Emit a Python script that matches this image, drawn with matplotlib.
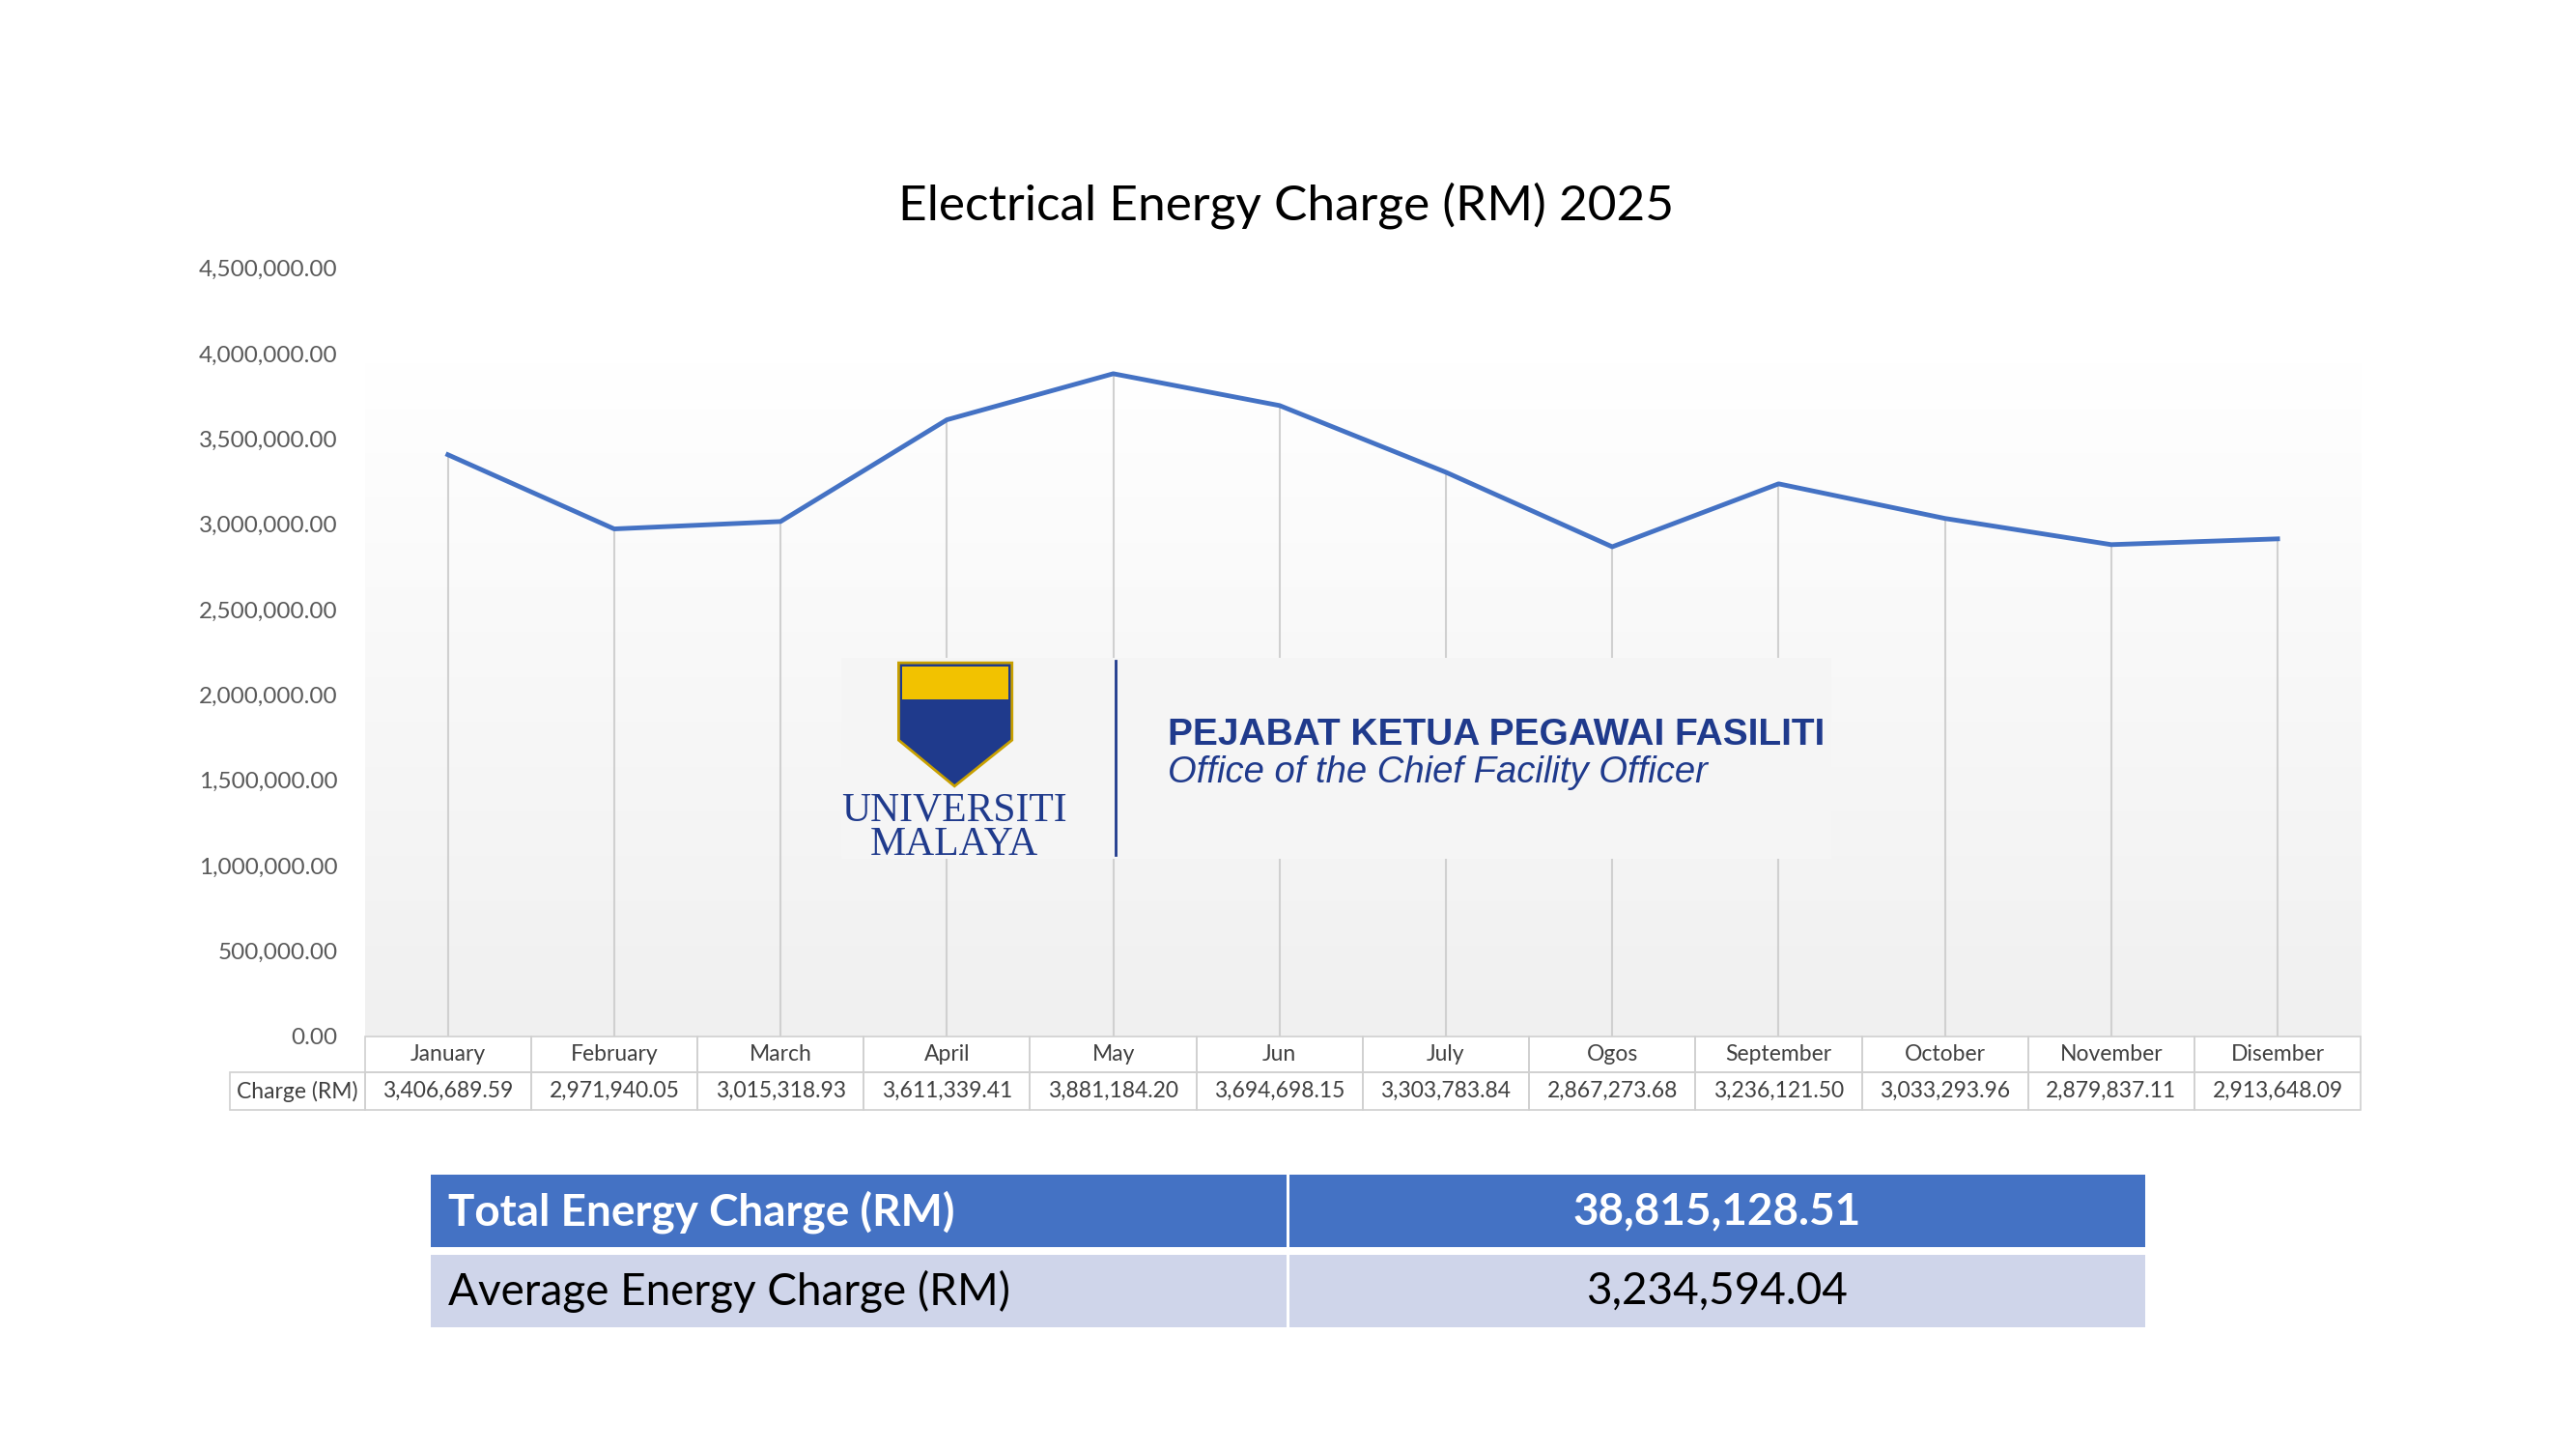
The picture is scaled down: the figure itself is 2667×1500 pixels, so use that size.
import matplotlib
matplotlib.use("Agg")
import matplotlib.pyplot as plt
import numpy as np
from matplotlib.patches import Rectangle, Polygon
from matplotlib.colors import LinearSegmentedColormap

plt.rcParams['font.family'] = ['Lato', 'DejaVu Sans']

months = ["January","February","March","April","May","Jun","July","Ogos","September","October","November","Disember"]
charges = [3406689.59,2971940.05,3015318.93,3611339.41,3881184.20,3694698.15,3303783.84,2867273.68,3236121.50,3033293.96,2879837.11,2913648.09]
yticks = np.arange(0, 4500001, 500000)
total_label = "38,815,128.51"
avg_label = "3,234,594.04"

W, H = 1568.0, 881.0
fig = plt.figure(figsize=(26.67, 15.0), dpi=100)

def fx(x): return x / W
def fy(y): return 1 - y / H

L, R, T, B = 222, 1437, 163, 630
ax = fig.add_axes([fx(L), fy(B), fx(R) - fx(L), fy(T) - fy(B)])
n = len(months)
ax.set_xlim(-0.5, n - 0.5)
ax.set_ylim(0, 4500000)
grad = np.linspace(0, 1, 256).reshape(-1, 1)
cm = LinearSegmentedColormap.from_list("g", ["#f0f0f0", "#ffffff"])
ax.imshow(grad, extent=(-0.5, n - 0.5, 0, 3950000), origin="lower", aspect="auto", cmap=cm, zorder=0)
x = np.arange(n)
ax.vlines(x, 0, charges, color="#d0d0d0", lw=1.5, zorder=1)
ax.plot(x, charges, color="#4472C4", lw=3.5, zorder=3)
ax.set_yticks(yticks)
ax.set_yticklabels([f"{v:,.2f}" for v in yticks], fontsize=17.5, color="#595959")
ax.set_xticks([])
ax.tick_params(axis='y', length=0, pad=20)
for s in ax.spines.values():
    s.set_visible(False)

fig.text(fx(783), fy(125), "Electrical Energy Charge (RM) 2025", ha="center", va="center", fontsize=37, color="#000")

cw = (R - L) / n
bc = "#d0d0d0"
def rect(x0, y0, x1, y1, fc="none", ec=bc, lw=1.2, z=2):
    fig.patches.append(Rectangle((fx(x0), fy(y1)), fx(x1) - fx(x0), fy(y0) - fy(y1),
                                 transform=fig.transFigure, fc=fc, ec=ec, lw=lw, zorder=z))
rect(140, 652, 222, 675)
for i in range(n):
    x0 = L + i * cw
    rect(x0, 630, x0 + cw, 652)
    rect(x0, 652, x0 + cw, 675)
    fig.text(fx(x0 + cw / 2), fy(641), months[i], ha="center", va="center", fontsize=16.5, color="#404040")
    fig.text(fx(x0 + cw / 2), fy(663.5), f"{charges[i]:,.2f}", ha="center", va="center", fontsize=16.5, color="#404040")
fig.text(fx(181), fy(663.5), "Charge (RM)", ha="center", va="center", fontsize=16.5, color="#404040")

rect(512, 400, 1115, 522, fc="#f5f5f5", ec="none", z=5)
fig.patches.append(Polygon([(fx(547), fy(403)), (fx(616), fy(403)), (fx(616), fy(450)),
                            (fx(581), fy(478)), (fx(547), fy(450))], closed=True,
                           transform=fig.transFigure, fc="#1f3a8c", ec="#c8a000", lw=2, zorder=6))
fig.patches.append(Rectangle((fx(549), fy(425)), fx(614) - fx(549), fy(405) - fy(425),
                             transform=fig.transFigure, fc="#f2c200", ec="none", zorder=7))
fig.text(fx(581), fy(493), "UNIVERSITI", ha="center", va="center", fontsize=30, color="#1f3a8c",
         family="Liberation Serif", zorder=8)
fig.text(fx(581), fy(514), "MALAYA", ha="center", va="center", fontsize=30, color="#1f3a8c",
         family="Liberation Serif", zorder=8)
fig.add_artist(plt.Line2D([fx(679), fx(679)], [fy(402), fy(520)], color="#1f3a8c", lw=2,
                          transform=fig.transFigure, zorder=8))
fig.text(fx(711), fy(447), "PEJABAT KETUA PEGAWAI FASILITI", ha="left", va="center", fontsize=28,
         weight="bold", color="#1f3a8c", family="Liberation Sans", zorder=8)
fig.text(fx(711), fy(470), "Office of the Chief Facility Officer", ha="left", va="center", fontsize=27.5,
         style="italic", color="#1f3a8c", family="Liberation Sans", zorder=8)

rect(262, 714, 783, 758, fc="#4472C4", ec="none")
rect(785, 714, 1306, 758, fc="#4472C4", ec="none")
rect(262, 763, 783, 807, fc="#CFD5EA", ec="none")
rect(785, 763, 1306, 807, fc="#CFD5EA", ec="none")
fig.text(fx(273), fy(737), "Total Energy Charge (RM)", ha="left", va="center", fontsize=33, weight="bold", color="white")
fig.text(fx(1045), fy(737), total_label, ha="center", va="center", fontsize=33, weight="bold", color="white")
fig.text(fx(273), fy(785), "Average Energy Charge (RM)", ha="left", va="center", fontsize=33, color="#000")
fig.text(fx(1045), fy(785), avg_label, ha="center", va="center", fontsize=33, color="#000")

fig.savefig("out.png", dpi=100, facecolor="white")
